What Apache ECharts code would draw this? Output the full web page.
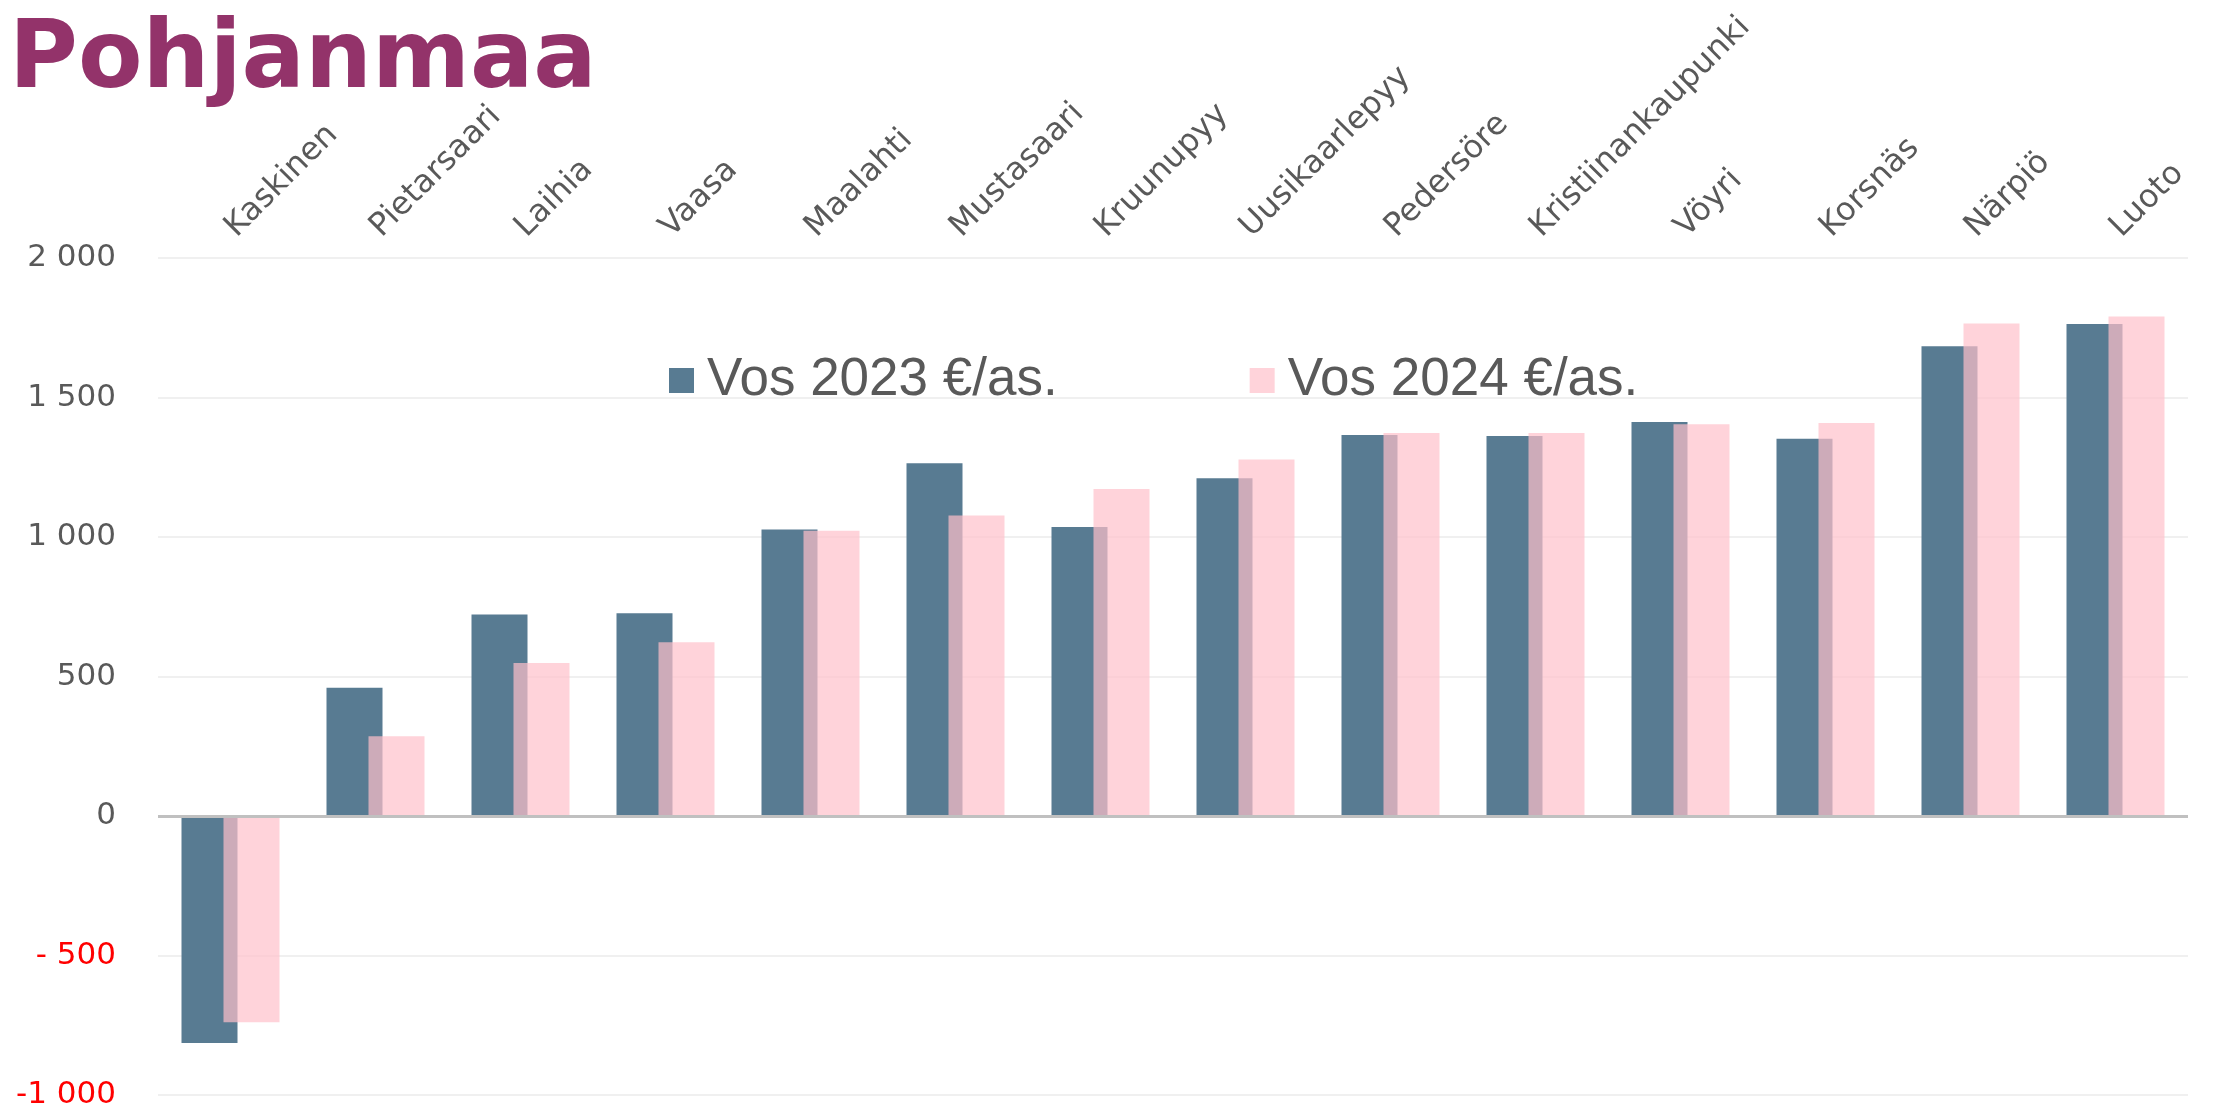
<!DOCTYPE html>
<html>
<head>
<meta charset="utf-8">
<script src="https://cdn.jsdelivr.net/npm/echarts@6/dist/echarts.min.js"></script>
<style>
html,body{margin:0;padding:0;background:#fff;}
#c{width:2213px;height:1111px;}
</style>
</head>
<body>
<div id="c"></div>
<script>
const categories = ['Kaskinen','Pietarsaari','Laihia','Vaasa','Maalahti','Mustasaari','Kruunupyy','Uusikaarlepyy','Pedersöre','Kristiinankaupunki','Vöyri','Korsnäs','Närpiö','Luoto'];
const vos2023 = [-814, 460, 722, 727, 1027, 1264, 1036, 1211, 1366, 1362, 1412, 1352, 1684, 1763];
const vos2024 = [-739, 286, 548, 623, 1022, 1077, 1172, 1278, 1373, 1373, 1404, 1409, 1765, 1790];
const yTickValues = [-1000, -500, 0, 500, 1000, 1500, 2000];
const yTickLabels = ['-1 000', '- 500', '0', '500', '1 000', '1 500', '2 000'];
const seriesNames = ['Vos 2023 €/as.', 'Vos 2024 €/as.'];

const chart = echarts.init(document.getElementById('c'), null, {renderer: 'canvas'});
const labelFont = 'DejaVu Sans';
chart.setOption({
  animation: false,
  backgroundColor: '#ffffff',
  title: {
    text: 'Pohjanmaa',
    left: 9, top: 16, padding: 0,
    textStyle: {fontFamily: 'DejaVu Sans', fontWeight: 'bold', fontSize: 94, color: '#93336a'}
  },
  legend: {
    left: 669, top: 354, padding: 0,
    itemWidth: 25, itemHeight: 25, itemGap: 192,
    icon: 'rect',
    textStyle: {fontFamily: 'Liberation Sans', fontSize: 53, color: '#595959', padding: [0,0,0,8]},
    data: seriesNames
  },
  grid: {left: 158, right: 25, top: 258, bottom: 16, containLabel: false},
  xAxis: {
    type: 'category', data: categories, position: 'top',
    axisLine: {show: false}, axisTick: {show: false},
    axisLabel: {interval: 0, rotate: 45, margin: 26, fontFamily: labelFont, fontSize: 32, color: '#595959'}
  },
  yAxis: {
    type: 'value', min: -1000, max: 2000, interval: 500,
    axisLine: {show: false}, axisTick: {show: false},
    splitLine: {lineStyle: {color: '#f0f0f0', width: 2}},
    axisLabel: {
      margin: 42, fontFamily: labelFont, fontSize: 31,
      formatter: function (v) {
        const i = yTickValues.indexOf(v);
        const t = i >= 0 ? yTickLabels[i] : String(v);
        return v < 0 ? '{n|' + t + '}' : '{p|' + t + '}';
      },
      rich: {
        n: {color: '#ff0000', fontFamily: labelFont, fontSize: 31},
        p: {color: '#595959', fontFamily: labelFont, fontSize: 31}
      }
    }
  },
  series: [{
    name: seriesNames[0], type: 'bar', data: vos2023,
    barWidth: 56, barGap: '-25%',
    itemStyle: {color: '#587b92'},
    markLine: {
      silent: true, symbol: 'none', animation: false,
      label: {show: false},
      lineStyle: {color: '#c0c0c0', width: 3, type: 'solid'},
      data: [{yAxis: 0}]
    }
  }, {
    name: seriesNames[1], type: 'bar', data: vos2024,
    barWidth: 56, barGap: '-25%',
    itemStyle: {color: 'rgba(255,192,203,0.7)'}
  }]
});
</script>
</body>
</html>
